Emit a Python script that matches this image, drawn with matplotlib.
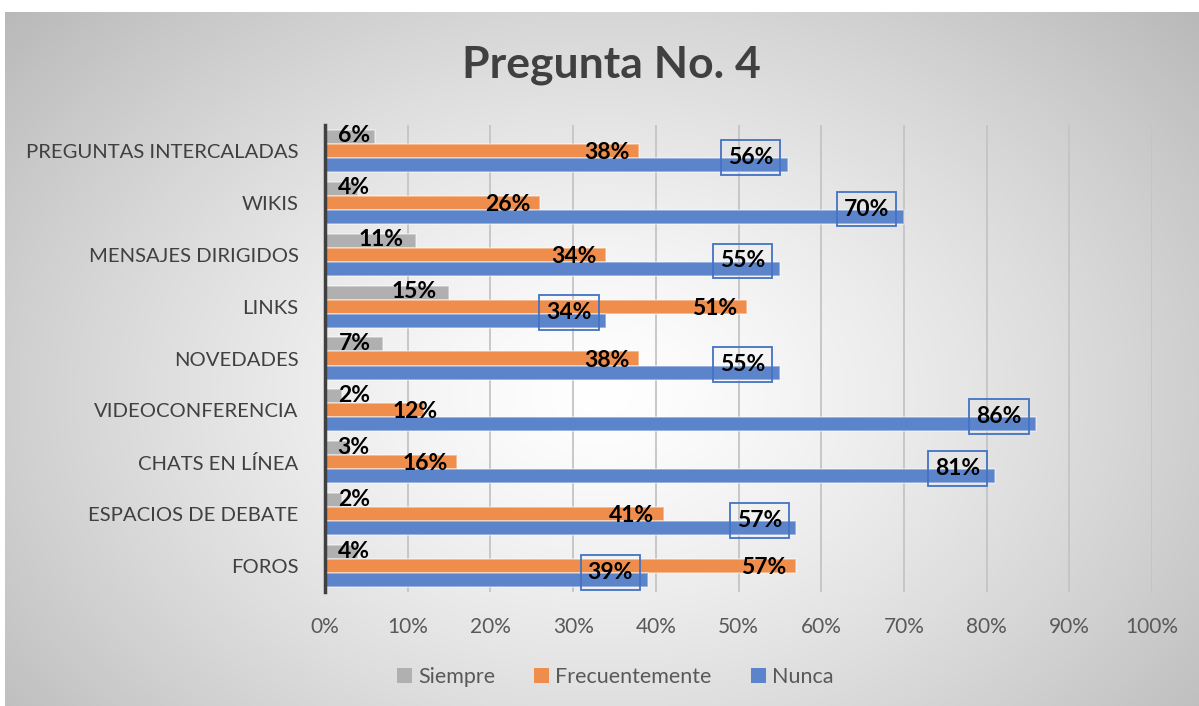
import numpy as np
import matplotlib
matplotlib.use("Agg")
import matplotlib.pyplot as plt
from matplotlib.patches import Patch

categories = ["PREGUNTAS INTERCALADAS", "WIKIS", "MENSAJES DIRIGIDOS", "LINKS",
              "NOVEDADES", "VIDEOCONFERENCIA", "CHATS EN LÍNEA",
              "ESPACIOS DE DEBATE", "FOROS"]
siempre = [6, 4, 11, 15, 7, 2, 3, 2, 4]
frecuentemente = [38, 26, 34, 51, 38, 12, 16, 41, 57]
nunca = [56, 70, 55, 34, 55, 86, 81, 57, 39]
series_names = ["Siempre", "Frecuentemente", "Nunca"]
x_ticks = [0, 10, 20, 30, 40, 50, 60, 70, 80, 90, 100]
title = "Pregunta No. 4"

colors = ["#b0b0b0", "#ef8e4c", "#5b84ca"]
FONT = "Lato"
plt.rcParams["font.family"] = [FONT, "DejaVu Sans"]

W, H = 1199, 706
fig = plt.figure(figsize=(W / 100, H / 100), dpi=100)
fig.patch.set_facecolor("white")

# radial gradient background
bg = fig.add_axes([5 / W, 0, 1 - 5 / W, 1 - 12 / H], zorder=-10)
yy, xx = np.mgrid[0:1:300j, 0:1:500j]
r = np.sqrt(((xx - 0.5) / 0.6) ** 2 + ((yy - 0.55) / 0.75) ** 2)
r = np.clip(r, 0, 1.2)
val = 1.0 - 0.24 * r ** 1.3
img = np.dstack([val, val, val])
bg.imshow(img, aspect="auto", extent=[0, 1, 0, 1], interpolation="bilinear")
bg.axis("off")

ax = fig.add_axes([325 / W, 1 - 592 / H, (1152 - 325) / W, (592 - 125) / H])
ax.patch.set_alpha(0)

n = len(categories)
y = np.arange(n)[::-1]
h = 0.27
offsets = [h, 0, -h]
data = [siempre, frecuentemente, nunca]
for vals, off, c, name in zip(data, offsets, colors, series_names):
    ax.barh(y + off, vals, height=h, color=c, edgecolor=(1, 1, 1, 0.45),
            linewidth=1.2, label=name, zorder=3)

lab_kw = dict(fontsize=16.5, fontweight="bold", color="black", va="center", zorder=5)
for yi, v in zip(y, siempre):
    ax.text(max(v - 1.5, 5.4), yi + h + 0.02, f"{v}%", ha="right", **lab_kw)
for yi, v in zip(y, frecuentemente):
    ax.text(max(v - 1.2, 13.6), yi - 0.03, f"{v}%", ha="right", **lab_kw)
for yi, v in zip(y, nunca):
    ax.text(v - 4.5, yi - 0.12, f"{v}%", ha="center",
            bbox=dict(boxstyle="square,pad=0.3", facecolor="none",
                      edgecolor="#4472c4", linewidth=1.3), **lab_kw)

ax.set_xlim(0, 100)
ax.set_ylim(-0.5, n - 0.5)
ax.set_xticks(x_ticks)
ax.set_xticklabels([f"{t}%" for t in x_ticks], fontsize=15, color="#595959")
ax.set_yticks(y)
ax.set_yticklabels(categories, fontsize=14.6, color="#404040")
ax.tick_params(axis="both", length=0)
ax.tick_params(axis="y", pad=19)
ax.tick_params(axis="x", pad=18)
ax.grid(axis="x", color="#c4c4c4", linewidth=1.3, zorder=0)
ax.set_axisbelow(True)
for s in ["top", "right", "bottom"]:
    ax.spines[s].set_visible(False)
ax.spines["left"].set_color("#404040")
ax.spines["left"].set_linewidth(2.5)
ax.spines["left"].set_zorder(6)

fig.text(0.51, 1 - 65 / H, title, ha="center", va="center", fontsize=32,
         fontweight="bold", color="#404040")

handles = [Patch(facecolor=c, edgecolor="none") for c in colors]
fig.legend(handles, series_names, loc="center", bbox_to_anchor=(0.513, 1 - 677 / H),
           ncol=3, frameon=False, fontsize=15.5, labelcolor="#595959",
           handlelength=0.7, handleheight=0.7, handletextpad=0.3, columnspacing=1.8)

fig.savefig("out.png", dpi=100)
